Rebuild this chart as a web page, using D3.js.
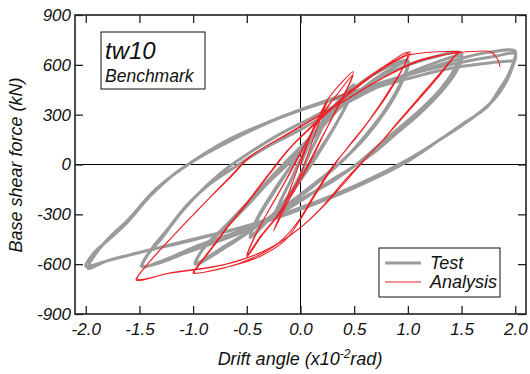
<!DOCTYPE html>
<html>
<head>
<meta charset="utf-8">
<script src="https://cdn.jsdelivr.net/npm/d3@7"></script>
<style>
  body { margin: 0; background: #fff; }
  svg text { font-family: "Liberation Sans", Arial, sans-serif; font-style: italic; fill: #111; }
</style>
</head>
<body>
<div id="chart"></div>
<script>
// ── hysteresis data (drift angle x10^-2 rad, base shear kN) ──
const xTicks = [-2.0, -1.5, -1.0, -0.5, 0.0, 0.5, 1.0, 1.5, 2.0];
const yTicks = [-900, -600, -300, 0, 300, 600, 900];

// test: one array per amplitude (two cycles each)
const test025 = [[0,0],[0.1,150],[0.25,300],[0.2,220],[0.08,60],[0,-60],[-0.12,-200],[-0.25,-320],[-0.2,-240],[-0.08,-80],[0,30],[0.12,170],[0.25,300]];
const test05 = [[0.25,300],[0.38,400],[0.5,480],[0.44,380],[0.32,230],[0.18,80],[0.08,-20],[-0.1,-180],[-0.28,-320],[-0.47,-440],[-0.4,-330],[-0.26,-180],[-0.1,-20],[0.05,120],[0.25,290],[0.5,470],
  [0.43,360],[0.3,210],[0.15,60],[0.05,-40],[-0.12,-200],[-0.3,-330],[-0.47,-430],[-0.4,-320],[-0.25,-160],[-0.08,0],[0.1,160],[0.3,320],[0.5,460]];
const test10 = [[0.5,460],[0.7,550],[1.0,625],[0.94,500],[0.8,340],[0.6,170],[0.42,40],[0.3,-30],[0.1,-140],[-0.15,-260],[-0.4,-370],[-0.7,-500],[-0.98,-600],
  [-0.92,-520],[-0.8,-440],[-0.7,-380],[-0.5,-250],[-0.3,-110],[-0.12,0],[0.1,150],[0.35,330],[0.6,470],[0.8,560],[1.0,615],
  [0.94,490],[0.8,330],[0.6,160],[0.4,30],[0.2,-80],[0,-180],[-0.25,-300],[-0.45,-390],[-0.7,-490],[-0.97,-590],
  [-0.9,-500],[-0.7,-370],[-0.45,-200],[-0.25,-60],[-0.1,40],[0.15,200],[0.4,360],[0.7,510],[1.0,600]];
const test15 = [[1.0,600],[1.2,640],[1.5,672],[1.44,580],[1.3,450],[1.1,320],[0.9,210],[0.7,100],[0.52,0],[0.3,-100],[0,-210],[-0.4,-360],[-0.7,-430],[-1.0,-500],[-1.25,-570],[-1.48,-615],
  [-1.42,-540],[-1.3,-450],[-1.1,-280],[-0.91,-150],[-0.7,-30],[-0.5,60],[-0.2,180],[0.1,280],[0.5,410],[0.9,520],[1.2,600],[1.5,650],
  [1.45,560],[1.3,430],[1.1,300],[0.9,190],[0.7,80],[0.5,-10],[0.25,-110],[0,-220],[-0.4,-370],[-0.8,-470],[-1.1,-540],[-1.3,-590],[-1.47,-610],
  [-1.4,-520],[-1.25,-400],[-1.05,-240],[-0.85,-120],[-0.6,-10],[-0.3,110],[0,210],[0.4,360],[0.8,490],[1.2,580],[1.5,640]];
const test20 = [[1.5,640],[1.75,675],[2.0,682],[1.98,610],[1.92,520],[1.85,450],[1.74,348],[1.5,240],[1.3,150],[1.0,20],[0.5,-140],[0,-270],[-0.4,-360],[-0.7,-405],[-1.0,-455],[-1.47,-525],[-1.8,-580],[-2.0,-612],
  [-1.92,-530],[-1.8,-460],[-1.63,-360],[-1.4,-190],[-1.2,-70],[-1.05,0],[-0.7,140],[-0.3,255],[0,330],[0.5,440],[1.0,540],[1.5,615],[1.8,650],[2.0,665],
  [1.97,580],[1.9,480],[1.8,390],[1.6,280],[1.3,150],[1.0,30],[0.5,-130],[0,-260],[-0.5,-370],[-1.0,-450],[-1.5,-530],[-1.8,-580],[-1.98,-625],
  [-1.9,-530],[-1.78,-440],[-1.6,-330],[-1.35,-150],[-1.0,20],[-0.6,160],[-0.2,280],[0.3,390],[0.9,500],[1.4,580],[1.8,615],[2.0,625]];

// analysis
const ana025 = [[0,0],[0.1,180],[0.25,380],[0.2,300],[0.1,120],[0,-60],[-0.1,-200],[-0.25,-400],[-0.2,-320],[-0.08,-120],[0.02,60],[0.12,220],[0.25,390]];
const ana05 = [[0.25,390],[0.35,470],[0.49,558],[0.45,480],[0.33,330],[0.2,160],[0.08,0],[-0.05,-150],[-0.2,-300],[-0.35,-420],[-0.5,-558],
  [-0.45,-470],[-0.35,-340],[-0.2,-170],[-0.07,-20],[0.05,130],[0.2,300],[0.35,430],[0.49,540],
  [0.44,460],[0.32,310],[0.18,140],[0.06,-10],[-0.08,-160],[-0.22,-310],[-0.37,-430],[-0.5,-550],
  [-0.44,-450],[-0.3,-280],[-0.15,-110],[-0.02,50],[0.15,240],[0.3,390]];
const ana10 = [[0.3,390],[0.5,460],[0.75,580],[0.95,650],[1.02,678],[0.97,600],[0.8,420],[0.62,250],[0.46,120],[0.32,0],[0.15,-170],[0,-330],[-0.15,-460],[-0.4,-560],[-0.7,-620],[-1.0,-654],
  [-0.98,-630],[-0.85,-520],[-0.7,-390],[-0.5,-230],[-0.3,-60],[-0.1,100],[0.2,290],[0.5,460],[0.8,600],[1.0,675],
  [0.96,590],[0.8,410],[0.6,230],[0.44,100],[0.3,-10],[0.12,-190],[-0.02,-340],[-0.2,-470],[-0.45,-565],[-0.72,-625],[-0.99,-650],
  [-0.96,-620],[-0.83,-510],[-0.68,-380],[-0.48,-220],[-0.28,-50],[-0.08,110],[0.2,280],[0.5,450],[0.8,590],[1.0,660]];
const ana15 = [[1.0,660],[1.2,676],[1.49,678],[1.46,670],[1.3,550],[1.1,400],[0.9,250],[0.77,150],[0.6,30],[0.45,-80],[0.2,-260],[0,-380],[-0.3,-510],[-0.7,-600],[-1.2,-650],[-1.53,-696],
  [-1.45,-620],[-1.2,-440],[-0.95,-270],[-0.68,-90],[-0.47,48],[-0.1,190],[0.3,340],[0.74,510],[1.1,620],[1.49,675],
  [1.45,660],[1.3,540],[1.1,390],[0.9,245],[0.76,140],[0.58,20],[0.42,-90],[0.18,-270],[-0.02,-390],[-0.32,-515],[-0.72,-605],[-1.22,-655],[-1.52,-690],
  [-1.44,-612],[-1.19,-432],[-0.94,-262],[-0.66,-82],[-0.45,55],[-0.08,200],[0.32,350],[0.72,505],[1.12,630],[1.5,676],
  [1.6,680],[1.77,678],[1.83,640],[1.86,588]];

const testSeries = [test025, test05, test10, test15, test20];
const anaSeries = [ana025, ana05, ana10, ana15];

// ── layout ──
const W = 530, H = 374;
const plot = { left: 75, right: 526, top: 15, bottom: 314 };

const x = d3.scaleLinear().domain([-2.1, 2.1]).range([plot.left, plot.right]);
const y = d3.scaleLinear().domain([-900, 900]).range([plot.bottom, plot.top]);

const svg = d3.select('#chart').append('svg')
  .attr('width', W).attr('height', H);

svg.append('defs').append('clipPath').attr('id', 'clip')
  .append('rect')
  .attr('x', plot.left).attr('y', plot.top)
  .attr('width', plot.right - plot.left).attr('height', plot.bottom - plot.top);

// zero lines
svg.append('line')
  .attr('x1', plot.left).attr('x2', plot.right)
  .attr('y1', y(0)).attr('y2', y(0))
  .attr('stroke', '#000').attr('stroke-width', 1);
svg.append('line')
  .attr('x1', x(0)).attr('x2', x(0))
  .attr('y1', plot.top).attr('y2', plot.bottom)
  .attr('stroke', '#000').attr('stroke-width', 1);

const line = d3.line()
  .x(d => x(d[0]))
  .y(d => y(d[1]))
  .curve(d3.curveCatmullRom.alpha(0.5));

const curves = svg.append('g').attr('clip-path', 'url(#clip)');

curves.selectAll('path.test')
  .data(testSeries)
  .join('path')
  .attr('class', 'test')
  .attr('d', line)
  .attr('fill', 'none')
  .attr('stroke', '#9b9b9b')
  .attr('stroke-width', 3)
  .attr('stroke-linejoin', 'round');

curves.selectAll('path.ana')
  .data(anaSeries)
  .join('path')
  .attr('class', 'ana')
  .attr('d', line)
  .attr('fill', 'none')
  .attr('stroke', '#ec2227')
  .attr('stroke-width', 1.1)
  .attr('stroke-linejoin', 'round');

// axes (ticks point inward on all four sides)
const axisStyle = g => {
  g.select('.domain').remove();
  g.selectAll('.tick line').attr('stroke', '#222').attr('stroke-width', 1.3);
};
const hyphen = f => d => f(d).replace('\u2212', '-');

svg.append('g')
  .attr('transform', `translate(0,${plot.bottom})`)
  .call(d3.axisBottom(x).tickValues(xTicks).tickSize(-8).tickPadding(9).tickFormat(hyphen(d3.format('.1f'))))
  .call(axisStyle)
  .call(g => g.selectAll('text').attr('font-size', 17).attr('fill', '#111'));

svg.append('g')
  .attr('transform', `translate(0,${plot.top})`)
  .call(d3.axisTop(x).tickValues(xTicks).tickSize(-8).tickFormat(''))
  .call(axisStyle);

svg.append('g')
  .attr('transform', `translate(${plot.left},0)`)
  .call(d3.axisLeft(y).tickValues(yTicks).tickSize(-8).tickPadding(4).tickFormat(hyphen(d3.format('d'))))
  .call(axisStyle)
  .call(g => g.selectAll('text').attr('font-size', 17).attr('fill', '#111'));

svg.append('g')
  .attr('transform', `translate(${plot.right},0)`)
  .call(d3.axisRight(y).tickValues(yTicks).tickSize(-8).tickFormat(''))
  .call(axisStyle);

// frame
svg.append('rect')
  .attr('x', plot.left).attr('y', plot.top)
  .attr('width', plot.right - plot.left).attr('height', plot.bottom - plot.top)
  .attr('fill', 'none').attr('stroke', '#222').attr('stroke-width', 1.6);

// axis titles
const xt = svg.append('text')
  .attr('x', 300).attr('y', 365)
  .attr('text-anchor', 'middle')
  .attr('font-size', 18);
xt.append('tspan').text('Drift angle (x10');
xt.append('tspan').attr('dy', -7).attr('font-size', 12).text('-2');
xt.append('tspan').attr('dy', 7).text('rad)');

svg.append('text')
  .attr('transform', 'translate(22,165) rotate(-90)')
  .attr('text-anchor', 'middle')
  .attr('font-size', 18)
  .text('Base shear force (kN)');

// specimen label box
svg.append('rect')
  .attr('x', 101).attr('y', 32).attr('width', 104).attr('height', 57)
  .attr('fill', '#fff').attr('stroke', '#111').attr('stroke-width', 1);
svg.append('text').attr('x', 105).attr('y', 59).attr('font-size', 24).text('tw10');
svg.append('text').attr('x', 105).attr('y', 82).attr('font-size', 17.5).text('Benchmark');

// legend
const legendItems = [
  { label: 'Test', color: '#9b9b9b', width: 3 },
  { label: 'Analysis', color: '#ec2227', width: 1.1 }
];
const legend = svg.append('g').attr('transform', 'translate(379,248)');
legend.append('rect')
  .attr('width', 121).attr('height', 49)
  .attr('fill', '#fff').attr('stroke', '#111').attr('stroke-width', 1);
const li = legend.selectAll('g.item')
  .data(legendItems)
  .join('g')
  .attr('class', 'item')
  .attr('transform', (d, i) => `translate(0,${15 + i * 19})`);
li.append('line')
  .attr('x1', 6).attr('x2', 42)
  .attr('stroke', d => d.color).attr('stroke-width', d => d.width);
li.append('text')
  .attr('x', 51).attr('y', 6)
  .attr('font-size', 18)
  .text(d => d.label);
</script>
</body>
</html>
